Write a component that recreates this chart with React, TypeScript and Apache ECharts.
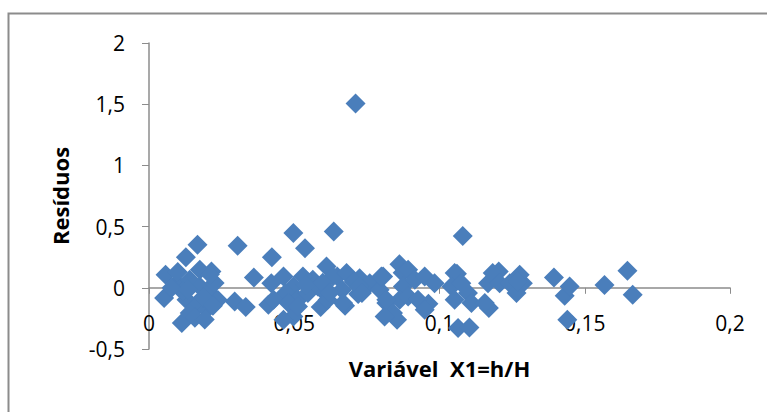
import React, { useEffect, useRef } from "react";
import * as echarts from "echarts";

const xTickLabels = ["0", "0,05", "0,1", "0,15", "0,2"];
const yTickLabels = ["-0,5", "0", "0,5", "1", "1,5", "2"];

const xValues = [
  0.0711, 0.0497, 0.0636, 0.108, 0.0167, 0.0305, 0.0537, 0.0127, 0.0423, 0.0862,
  0.0611, 0.1647, 0.1204, 0.106, 0.0361, 0.1394, 0.1568, 0.1665, 0.1431, 0.144,
  0.1064, 0.1103, 0.0113, 0.0052, 0.0057, 0.0295, 0.0333, 0.0411, 0.0591, 0.0675,
  0.117, 0.0962, 0.0854,
  0.0215, 0.0095, 0.014, 0.0175, 0.0209, 0.0129, 0.0163, 0.0198, 0.014, 0.0117,
  0.0078, 0.0226, 0.0237, 0.0175, 0.0158, 0.0192, 0.0099, 0.021, 0.0134, 0.0185, 0.022,
  0.0421, 0.0463, 0.0497, 0.0471, 0.0429, 0.0513, 0.0547, 0.0564, 0.053, 0.048,
  0.0497, 0.0463, 0.0581, 0.0606, 0.0648, 0.0665, 0.0615, 0.0513, 0.0539,
  0.0633, 0.0598, 0.0622, 0.068, 0.0668, 0.0725, 0.076, 0.0737, 0.0806, 0.0794,
  0.0817, 0.084, 0.0873, 0.0874, 0.0863, 0.0811, 0.0705, 0.072, 0.0724, 0.0733,
  0.08, 0.0817,
  0.0892, 0.0915, 0.0949, 0.0892, 0.0926, 0.0949, 0.0983, 0.1052, 0.1041, 0.1075,
  0.1098, 0.1052, 0.111, 0.1156, 0.1167, 0.1183,
  0.1207, 0.1242, 0.1287, 0.1265, 0.1276, 0.1271, 0.1448,
];

const yValues = [
  1.506, 0.448, 0.459, 0.424, 0.351, 0.343, 0.324, 0.25, 0.25, 0.193,
  0.174, 0.139, 0.133, 0.114, 0.084, 0.084, 0.022, -0.057, -0.065, -0.261,
  -0.329, -0.324, -0.288, -0.084, 0.106, -0.112, -0.157, -0.139, -0.157, -0.147,
  -0.166, -0.13, -0.261,
  0.133, 0.038, 0.065, 0.011, -0.043, -0.098, -0.153, -0.179, -0.206, -0.033,
  0.0, 0.04, -0.1, 0.147, -0.245, -0.26, 0.13, 0.11, -0.016, -0.08, -0.147,
  0.038, 0.092, 0.011, -0.043, -0.098, -0.098, -0.043, 0.065, 0.092, -0.125,
  -0.234, -0.261, 0.011, -0.043, 0.092, -0.016, -0.098, -0.153, 0.024,
  0.092, 0.041, -0.041, 0.12, -0.125, 0.079, 0.038, -0.016, 0.092, -0.016,
  -0.125, -0.206, 0.122, 0.011, -0.098, -0.234, 0.05, -0.05, 0.011, -0.043,
  0.092, -0.098,
  0.147, 0.065, 0.092, -0.071, -0.098, -0.179, 0.038, 0.12, 0.011, 0.038,
  -0.043, -0.098, -0.125, -0.125, 0.038, 0.12,
  0.038, 0.038, 0.038, -0.043, 0.106, 0.051, 0.011,
];

const points = xValues.map((x, i) => [x, yValues[i]]);

const fmt = (v: number) => String(Math.round(v * 100) / 100).replace(".", ",");

export default function App() {
  const ref = useRef<HTMLDivElement>(null);
  useEffect(() => {
    if (!ref.current) return;
    const chart = echarts.init(ref.current, null, { renderer: "svg" });
    const font = "'Open Sans', 'Noto Sans', sans-serif";
    chart.setOption({
      animation: false,
      backgroundColor: "#ffffff",
      graphic: [
        {
          type: "rect",
          shape: { x: 8.5, y: 13.5, width: 820, height: 450 },
          style: { fill: "none", stroke: "#8c8c8c", lineWidth: 2 },
          silent: true,
        },
      ],
      grid: { left: 149, right: 37, top: 43, bottom: 63, outerBoundsMode: "none", containLabel: false },
      xAxis: {
        type: "value",
        min: 0,
        max: 0.2,
        interval: 0.05,
        name: "Variável  X1=h/H",
        nameLocation: "middle",
        nameGap: 8,
        nameTextStyle: { fontFamily: font, fontWeight: "bold", fontSize: 22, color: "#000", verticalAlign: "top" },
        axisLine: { onZero: true, lineStyle: { color: "#8c8c8c", width: 1.5 } },
        axisTick: { show: true, length: 6, lineStyle: { color: "#8c8c8c" } },
        axisLabel: {
          margin: -37,
          fontFamily: font,
          fontSize: 21,
          color: "#000",
          formatter: (v: number) => xTickLabels[Math.round(v / 0.05)] ?? fmt(v),
        },
        splitLine: { show: false },
      },
      yAxis: {
        type: "value",
        min: -0.5,
        max: 2,
        interval: 0.5,
        name: "Resíduos",
        nameLocation: "middle",
        nameGap: 78,
        nameRotate: 90,
        nameTextStyle: { fontFamily: font, fontWeight: "bold", fontSize: 22, color: "#000" },
        axisLine: { show: true, lineStyle: { color: "#8c8c8c", width: 1.5 } },
        axisTick: { show: true, length: 7, lineStyle: { color: "#8c8c8c" } },
        axisLabel: {
          margin: 24,
          fontFamily: font,
          fontSize: 21,
          color: "#000",
          formatter: (v: number) => yTickLabels[Math.round((v + 0.5) / 0.5)] ?? fmt(v),
        },
        splitLine: { show: false },
      },
      series: [
        {
          type: "scatter",
          symbol: "diamond",
          symbolSize: 20,
          itemStyle: { color: "#4a7ebb", opacity: 1 },
          data: points,
        },
      ],
    });
    return () => chart.dispose();
  }, []);
  return (
    <div
      ref={ref}
      style={{ position: "fixed", left: 0, top: 0, width: 767, height: 412 }}
    />
  );
}
